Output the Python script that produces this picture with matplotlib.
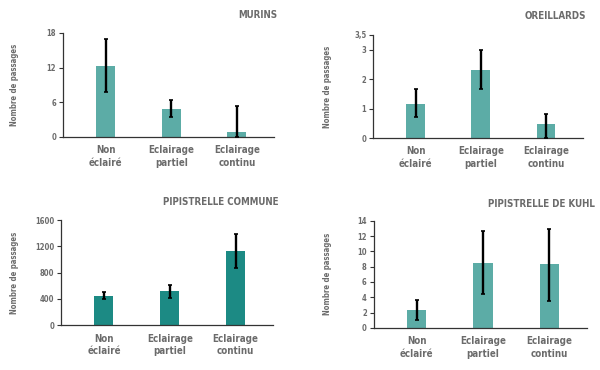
import matplotlib.pyplot as plt
import numpy as np

# Data
categories = ['Non\néclairé', 'Eclairage\npartiel', 'Eclairage\ncontinu']

murins = [12.2, 4.9, 0.8]
murins_low = [7.7, 3.5, 0.0]
murins_high = [16.9, 6.4, 5.4]
murins_ticks = [0, 6, 12, 18]
murins_ticklabels = ['0', '6', '12', '18']

oreillards = [1.16, 2.31, 0.48]
oreillards_low = [0.70, 1.66, 0.0]
oreillards_high = [1.66, 3.0, 0.80]
oreillards_ticks = [0, 1, 2, 3, 3.5]
oreillards_ticklabels = ['0', '1', '2', '3', '3,5']

commune = [447, 518, 1133]
commune_low = [396, 421, 879]
commune_high = [513, 615, 1387]
commune_ticks = [0, 400, 800, 1200, 1600]
commune_ticklabels = ['0', '400', '800', '1200', '1600']

kuhl = [2.36, 8.5, 8.33]
kuhl_low = [1.0, 4.4, 3.45]
kuhl_high = [3.7, 12.65, 13.0]
kuhl_ticks = [0, 2, 4, 6, 8, 10, 12, 14]
kuhl_ticklabels = ['0', '2', '4', '6', '8', '10', '12', '14']

light = '#5caca6'
dark = '#1c8a84'
grey = '#6b6b6b'

fig = plt.figure(figsize=(6, 3.7), dpi=100)


def panel(rect, values, low, high, ticks, ticklabels, color, title, title_xy, ylabel_x):
    ax = fig.add_axes(rect)
    x = np.arange(len(values))
    v = np.array(values)
    yerr = [v - np.array(low), np.array(high) - v]
    ax.bar(x, v, width=0.29, color=color, zorder=2)
    ax.errorbar(x, v, yerr=yerr, fmt='none', ecolor='black', elinewidth=1.7,
                capsize=1.5, capthick=1.2, zorder=3)
    ax.set_xlim(-0.65, 2.57)
    ax.set_ylim(0, ticks[-1])
    ax.set_yticks(ticks)
    ax.set_yticklabels(ticklabels, fontsize=5.5, fontweight='bold', color=grey,
                       fontstretch='condensed')
    ax.set_xticks(x)
    ax.set_xticklabels(categories, fontsize=7, fontweight='bold', color=grey,
                       linespacing=1.3, fontstretch='condensed')
    ax.tick_params(axis='x', length=0, pad=6)
    ax.tick_params(axis='y', length=3, width=0.8, color='#333333', pad=2)
    for s in ['top', 'right']:
        ax.spines[s].set_visible(False)
    for s in ['left', 'bottom']:
        ax.spines[s].set_color('#333333')
        ax.spines[s].set_linewidth(0.9)
    fig.text(title_xy[0], title_xy[1], title, ha='right', va='center',
             fontsize=7, fontweight='bold', color=grey, fontstretch='condensed')
    fig.text(ylabel_x, rect[1] + rect[3] / 2, 'Nombre de passages', rotation=90,
             ha='center', va='center', fontsize=5.6, color=grey,
             fontweight='bold', fontstretch='condensed')
    return ax


panel([0.105, 0.630, 0.352, 0.281], murins, murins_low, murins_high,
      murins_ticks, murins_ticklabels, light, 'MURINS', (277 / 600, 1 - 15 / 370), 15 / 600)
panel([0.622, 0.627, 0.350, 0.279], oreillards, oreillards_low, oreillards_high,
      oreillards_ticks, oreillards_ticklabels, light, 'OREILLARDS', (586 / 600, 1 - 16 / 370), 327 / 600)
panel([0.102, 0.121, 0.353, 0.284], commune, commune_low, commune_high,
      commune_ticks, commune_ticklabels, dark, 'PIPISTRELLE COMMUNE', (279 / 600, 1 - 202 / 370), 15 / 600)
panel([0.623, 0.114, 0.355, 0.289], kuhl, kuhl_low, kuhl_high,
      kuhl_ticks, kuhl_ticklabels, light, 'PIPISTRELLE DE KUHL', (595 / 600, 1 - 204 / 370), 328 / 600)

plt.savefig('out.png', dpi=100)
